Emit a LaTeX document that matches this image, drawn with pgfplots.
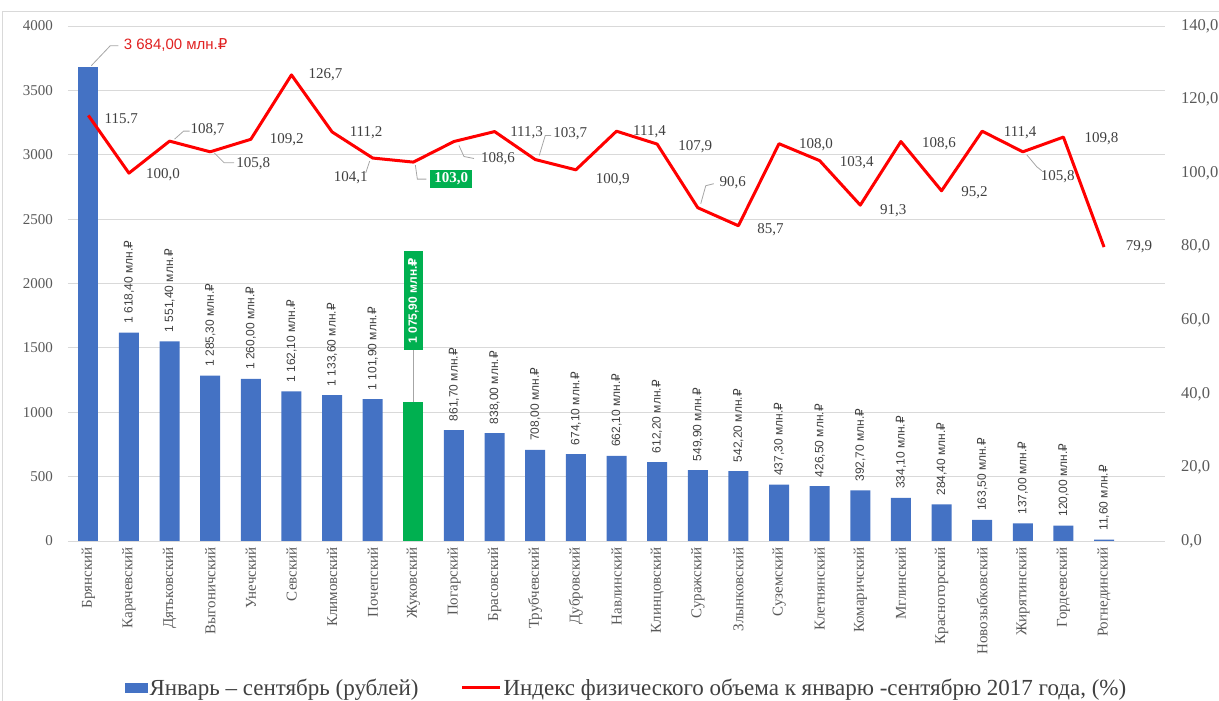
\documentclass[border=0pt]{standalone}
\usepackage{fontspec}
\setmainfont{Liberation Serif}
\setsansfont{Liberation Sans}
\newfontfamily\rubfont{DejaVu Sans}
\usepackage{pgfplots}
\pgfplotsset{compat=1.18}
\usepackage{pgfplotstable}

\definecolor{barblue}{HTML}{4472C4}
\definecolor{bargreen}{HTML}{00B050}
\definecolor{txtgray}{HTML}{595959}
\definecolor{lblgray}{HTML}{404040}
\definecolor{gridgray}{HTML}{D9D9D9}
\definecolor{leadgray}{HTML}{A6A6A6}
\definecolor{redlbl}{HTML}{E02020}

\DeclareRobustCommand{\R}{{\rubfont ₽}}
\newcommand\fs[1]{\fontsize{#1}{#1}\selectfont}

% index of physical volume, label offsets in pt
\pgfplotstableread[col sep=semicolon]{
x;y;dx;dy;lab
0;115.7;33;-3;115.7
1;100.0;34;-2;100,0
2;108.7;38;11;108,7
3;105.8;43;-12;105,8
4;109.2;36;0;109,2
5;126.7;34;0;126,7
6;111.2;34;-1;111,2
7;104.1;-22;-20;104,1
8;103.0;38;-17;103,0
9;108.6;44;-17;108,6
10;111.3;32;-1;111,3
11;103.7;35;26;103,7
12;100.9;37;-10;100,9
13;111.4;33;-1;111,4
14;107.9;38;-3;107,9
15;90.6;35;25;90,6
16;85.7;32;-4;85,7
17;108.0;37;-1;108,0
18;103.4;37;-2;103,4
19;91.3;33;-6;91,3
20;108.6;38;-2;108,6
21;95.2;33;-2;95,2
22;111.4;38;-2;111,4
23;105.8;35;-25;105,8
24;109.8;38;-2;109,8
25;79.9;35;0;79,9
}\idx

\pgfplotsset{base/.style={scale only axis, width=1097pt, height=515pt,
  xmin=-0.5, xmax=26.5, major tick length=0pt,
  /pgf/number format/assume math mode=true}}

\begin{document}
\begin{tikzpicture}
\begin{axis}[base,
  ymin=0, ymax=4000, ytick={0,500,...,4000},
  /pgf/number format/1000 sep={},
  ymajorgrids, grid style={gridgray, line width=0.9pt},
  axis line style={draw=none},
  xtick={0,...,25},
  xticklabels={Брянский,Карачевский,Дятьковский,Выгоничский,Унечский,Севский,Климовский,Почепский,Жуковский,Погарский,Брасовский,Трубчевский,Дубровский,Навлинский,Клинцовский,Суражский,Злынковский,Суземский,Клетнянский,Комаричский,Мглинский,Красногорский,Новозыбковский,Жирятинский,Гордеевский,Рогнединский},
  xticklabel style={rotate=90, anchor=east, inner xsep=6pt, inner ysep=0pt, font=\fs{15}, text=txtgray},
  yticklabel style={font=\fs{15}, text=txtgray, inner xsep=0pt, xshift=-15pt},
  ybar, bar width=20pt, bar shift=0pt,
  legend style={at={(0.509,-0.285)}, anchor=center, draw=none, legend columns=2,
    font=\fs{23}, text=lblgray, /tikz/every even column/.append style={column sep=40pt}},
  legend cell align=left,
]
\coordinate (O) at (rel axis cs:0,0);
\addplot[fill=barblue, draw=none,
  legend image code/.code={\fill[barblue] (0pt,-5pt) rectangle (23pt,5pt);},
  nodes near coords, point meta=explicit symbolic,
  nodes near coords style={rotate=90, anchor=west, inner sep=0pt, outer xsep=9pt,
    font=\sffamily\fs{12}, text=lblgray}]
coordinates {
(1,1618.4) [1 618,40 млн.\R]
(2,1551.4) [1 551,40 млн.\R]
(3,1285.3) [1 285,30 млн.\R]
(4,1260.0) [1 260,00 млн.\R]
(5,1162.1) [1 162,10 млн.\R]
(6,1133.6) [1 133,60 млн.\R]
(7,1101.9) [1 101,90 млн.\R]
(9,861.7) [861,70 млн.\R]
(10,838.0) [838,00 млн.\R]
(11,708.0) [708,00 млн.\R]
(12,674.1) [674,10 млн.\R]
(13,662.1) [662,10 млн.\R]
(14,612.2) [612,20 млн.\R]
(15,549.9) [549,90 млн.\R]
(16,542.2) [542,20 млн.\R]
(17,437.3) [437,30 млн.\R]
(18,426.5) [426,50 млн.\R]
(19,392.7) [392,70 млн.\R]
(20,334.1) [334,10 млн.\R]
(21,284.4) [284,40 млн.\R]
(22,163.5) [163,50 млн.\R]
(23,137.0) [137,00 млн.\R]
(24,120.0) [120,00 млн.\R]
(25,11.6) [11,60 млн.\R]
};
\addlegendentry{Январь – сентябрь (рублей)}
\addplot[fill=barblue, draw=none, forget plot,
  nodes near coords, point meta=explicit symbolic,
  nodes near coords style={anchor=west, xshift=32pt, yshift=22pt,
    font=\sffamily\fs{15}, text=redlbl}]
coordinates {(0,3684.0) [3 684,00 млн.\R]};
\addplot[fill=bargreen, draw=none, forget plot,
  nodes near coords, point meta=explicit symbolic,
  nodes near coords style={rotate=90, anchor=west, fill=bargreen, text=white,
    inner xsep=7pt, inner ysep=4pt, outer xsep=52pt, font=\sffamily\bfseries\fs{12}}]
coordinates {(8,1075.9) [1 075,90 млн.\R]};
\draw[leadgray, line width=0.8pt] (axis cs:0,3684) ++(3pt,1pt) -- ++(19pt,20pt) -- ++(8pt,0pt);
\draw[leadgray, line width=0.8pt] (axis cs:8,1075.9) -- ++(0pt,52pt);
\addlegendimage{legend image code/.code={\draw[red, line width=3pt] (0pt,0pt) -- (38pt,0pt);}}
\addlegendentry{Индекс физического объема к январю -сентябрю 2017 года, (\%)}
\end{axis}

\begin{axis}[base,
  ymin=0, ymax=140, ytick={0,20,...,140},
  hide x axis, axis y line*=right, y axis line style={draw=none},
  /pgf/number format/.cd, fixed, fixed zerofill, precision=1, use comma,
  /pgfplots/.cd,
  yticklabel style={font=\fs{16.5}, text=txtgray, inner xsep=0pt, xshift=16pt},
]
\addplot[red, line width=3pt, line join=round, mark=none,
  nodes near coords, point meta=explicit symbolic,
  visualization depends on={\thisrow{dx} \as \dx},
  visualization depends on={\thisrow{dy} \as \dy},
  nodes near coords style={anchor=center, xshift=\dx pt, yshift=\dy pt,
    font=\fs{15}, text=lblgray}]
table[x=x, y=y, meta=lab]{\idx};
\addplot[draw=none, mark=none, forget plot,
  nodes near coords, point meta=explicit symbolic,
  nodes near coords style={anchor=center, xshift=38pt, yshift=-17pt,
    fill=bargreen, text=white, inner xsep=4pt, inner ysep=3pt, font=\bfseries\fs{15}}]
coordinates {(8,103.0) [103,0]};
\draw[leadgray, line width=0.8pt] (axis cs:2,108.7) ++(5pt,2pt) -- ++(9pt,8pt) -- ++(6pt,0pt);
\draw[leadgray, line width=0.8pt] (axis cs:3,105.8) ++(4pt,-1pt) -- ++(10pt,-10pt) -- ++(10pt,0pt);
\draw[leadgray, line width=0.8pt] (axis cs:7,104.1) ++(-3pt,-3pt) -- ++(-4pt,-12pt);
\draw[leadgray, line width=0.8pt] (axis cs:8,103.0) ++(2pt,-3pt) -- ++(2pt,-14pt) -- ++(9pt,0pt);
\draw[leadgray, line width=0.8pt] (axis cs:9,108.6) ++(5pt,-4pt) -- ++(5pt,-11pt) -- ++(10pt,-2pt);
\draw[leadgray, line width=0.8pt] (axis cs:11,103.7) ++(4pt,4pt) -- ++(6pt,20pt) -- ++(6pt,0pt);
\draw[leadgray, line width=0.8pt] (axis cs:15,90.6) ++(3pt,4pt) -- ++(5pt,18pt) -- ++(8pt,2pt);
\draw[leadgray, line width=0.8pt] (axis cs:23,105.8) ++(4pt,-3pt) -- ++(10pt,-12pt) -- ++(5pt,-4pt);
\end{axis}

\draw[gridgray, line width=0.8pt] ([shift={(-66pt,-190pt)}]O) rectangle ([shift={(1180pt,530pt)}]O);
\pgfresetboundingbox
\path[use as bounding box] ([shift={(-68pt,-160pt)}]O) rectangle ([shift={(1151pt,541pt)}]O);
\end{tikzpicture}
\end{document}
